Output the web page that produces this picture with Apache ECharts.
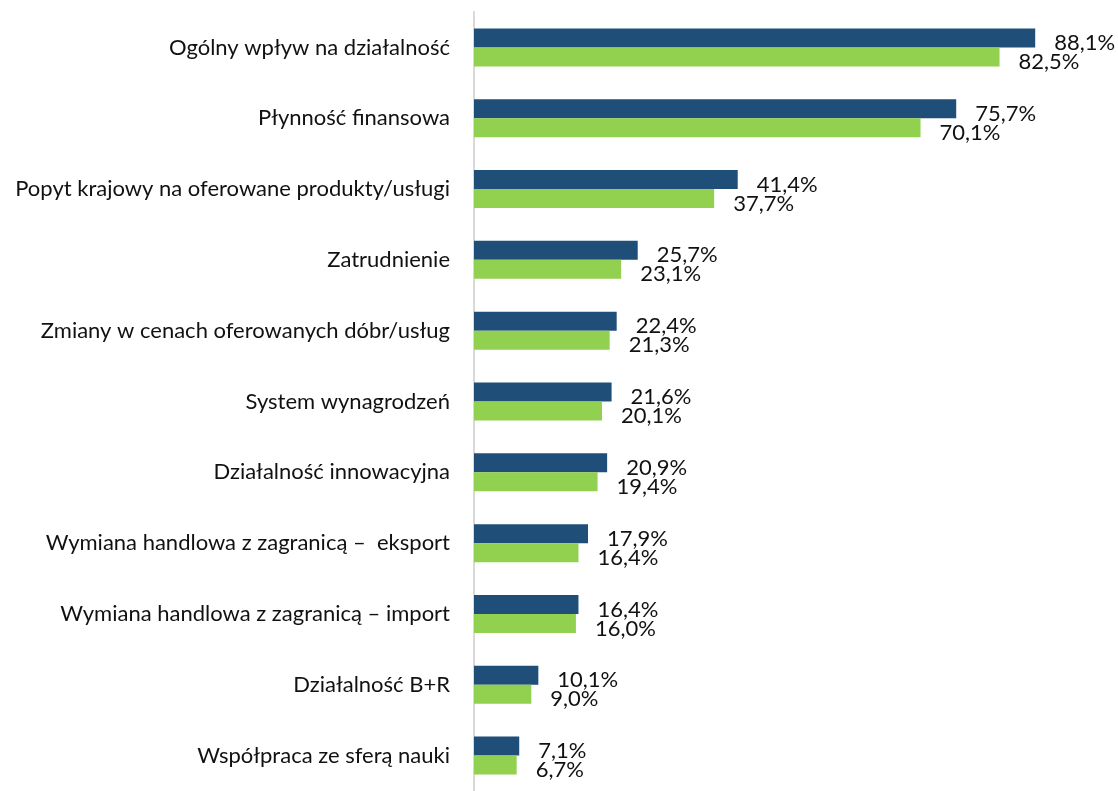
<!DOCTYPE html>
<html>
<head>
<meta charset="utf-8">
<script src="https://cdn.jsdelivr.net/npm/echarts@6/dist/echarts.min.js"></script>
<style>
  html, body { margin: 0; padding: 0; background: #fff; }
  #chart { width: 1118px; height: 791px; }
</style>
</head>
<body>
<div id="chart"></div>
<script>
  // kategorie (od góry)
  var categories = [
    'Ogólny wpływ na działalność',
    'Płynność finansowa',
    'Popyt krajowy na oferowane produkty/usługi',
    'Zatrudnienie',
    'Zmiany w cenach oferowanych dóbr/usług',
    'System wynagrodzeń',
    'Działalność innowacyjna',
    'Wymiana handlowa z zagranicą –  eksport',
    'Wymiana handlowa z zagranicą – import',
    'Działalność B+R',
    'Współpraca ze sferą nauki'
  ];
  // wartości serii
  var seriesA = [88.1, 75.7, 41.4, 25.7, 22.4, 21.6, 20.9, 17.9, 16.4, 10.1, 7.1];
  var seriesB = [82.5, 70.1, 37.7, 23.1, 21.3, 20.1, 19.4, 16.4, 16.0, 9.0, 6.7];

  var font = 'Lato';

  function fmt(p) {
    return p.value.toFixed(1).replace('.', ',') + '%';
  }

  var chart = echarts.init(document.getElementById('chart'));
  var option = {
    animation: false,
    grid: { left: 474, right: 7, top: 12, bottom: -8, containLabel: false },
    xAxis: {
      type: 'value',
      min: 0,
      max: 100,
      show: false,
      splitLine: { show: false }
    },
    yAxis: {
      type: 'category',
      inverse: true,
      data: categories,
      axisTick: { show: false },
      axisLine: { lineStyle: { color: '#D9D9D9', width: 2 } },
      axisLabel: {
        color: '#111',
        fontFamily: font,
        fontSize: 22,
        margin: 24,
        padding: [8, 0, 0, 0]
      }
    },
    series: [
      {
        name: 'A',
        type: 'bar',
        data: seriesA,
        barWidth: 19,
        barGap: '0%',
        itemStyle: { color: '#1F4E79' },
        label: {
          show: true,
          position: 'right',
          distance: 19,
          offset: [0, 5],
          formatter: fmt,
          color: '#111',
          fontFamily: font,
          fontSize: 22
        }
      },
      {
        name: 'B',
        type: 'bar',
        data: seriesB,
        barWidth: 19,
        barGap: '0%',
        itemStyle: { color: '#92D050' },
        label: {
          show: true,
          position: 'right',
          distance: 19,
          offset: [0, 5],
          formatter: fmt,
          color: '#111',
          fontFamily: font,
          fontSize: 22
        }
      }
    ]
  };
  chart.setOption(option);
</script>
</body>
</html>
